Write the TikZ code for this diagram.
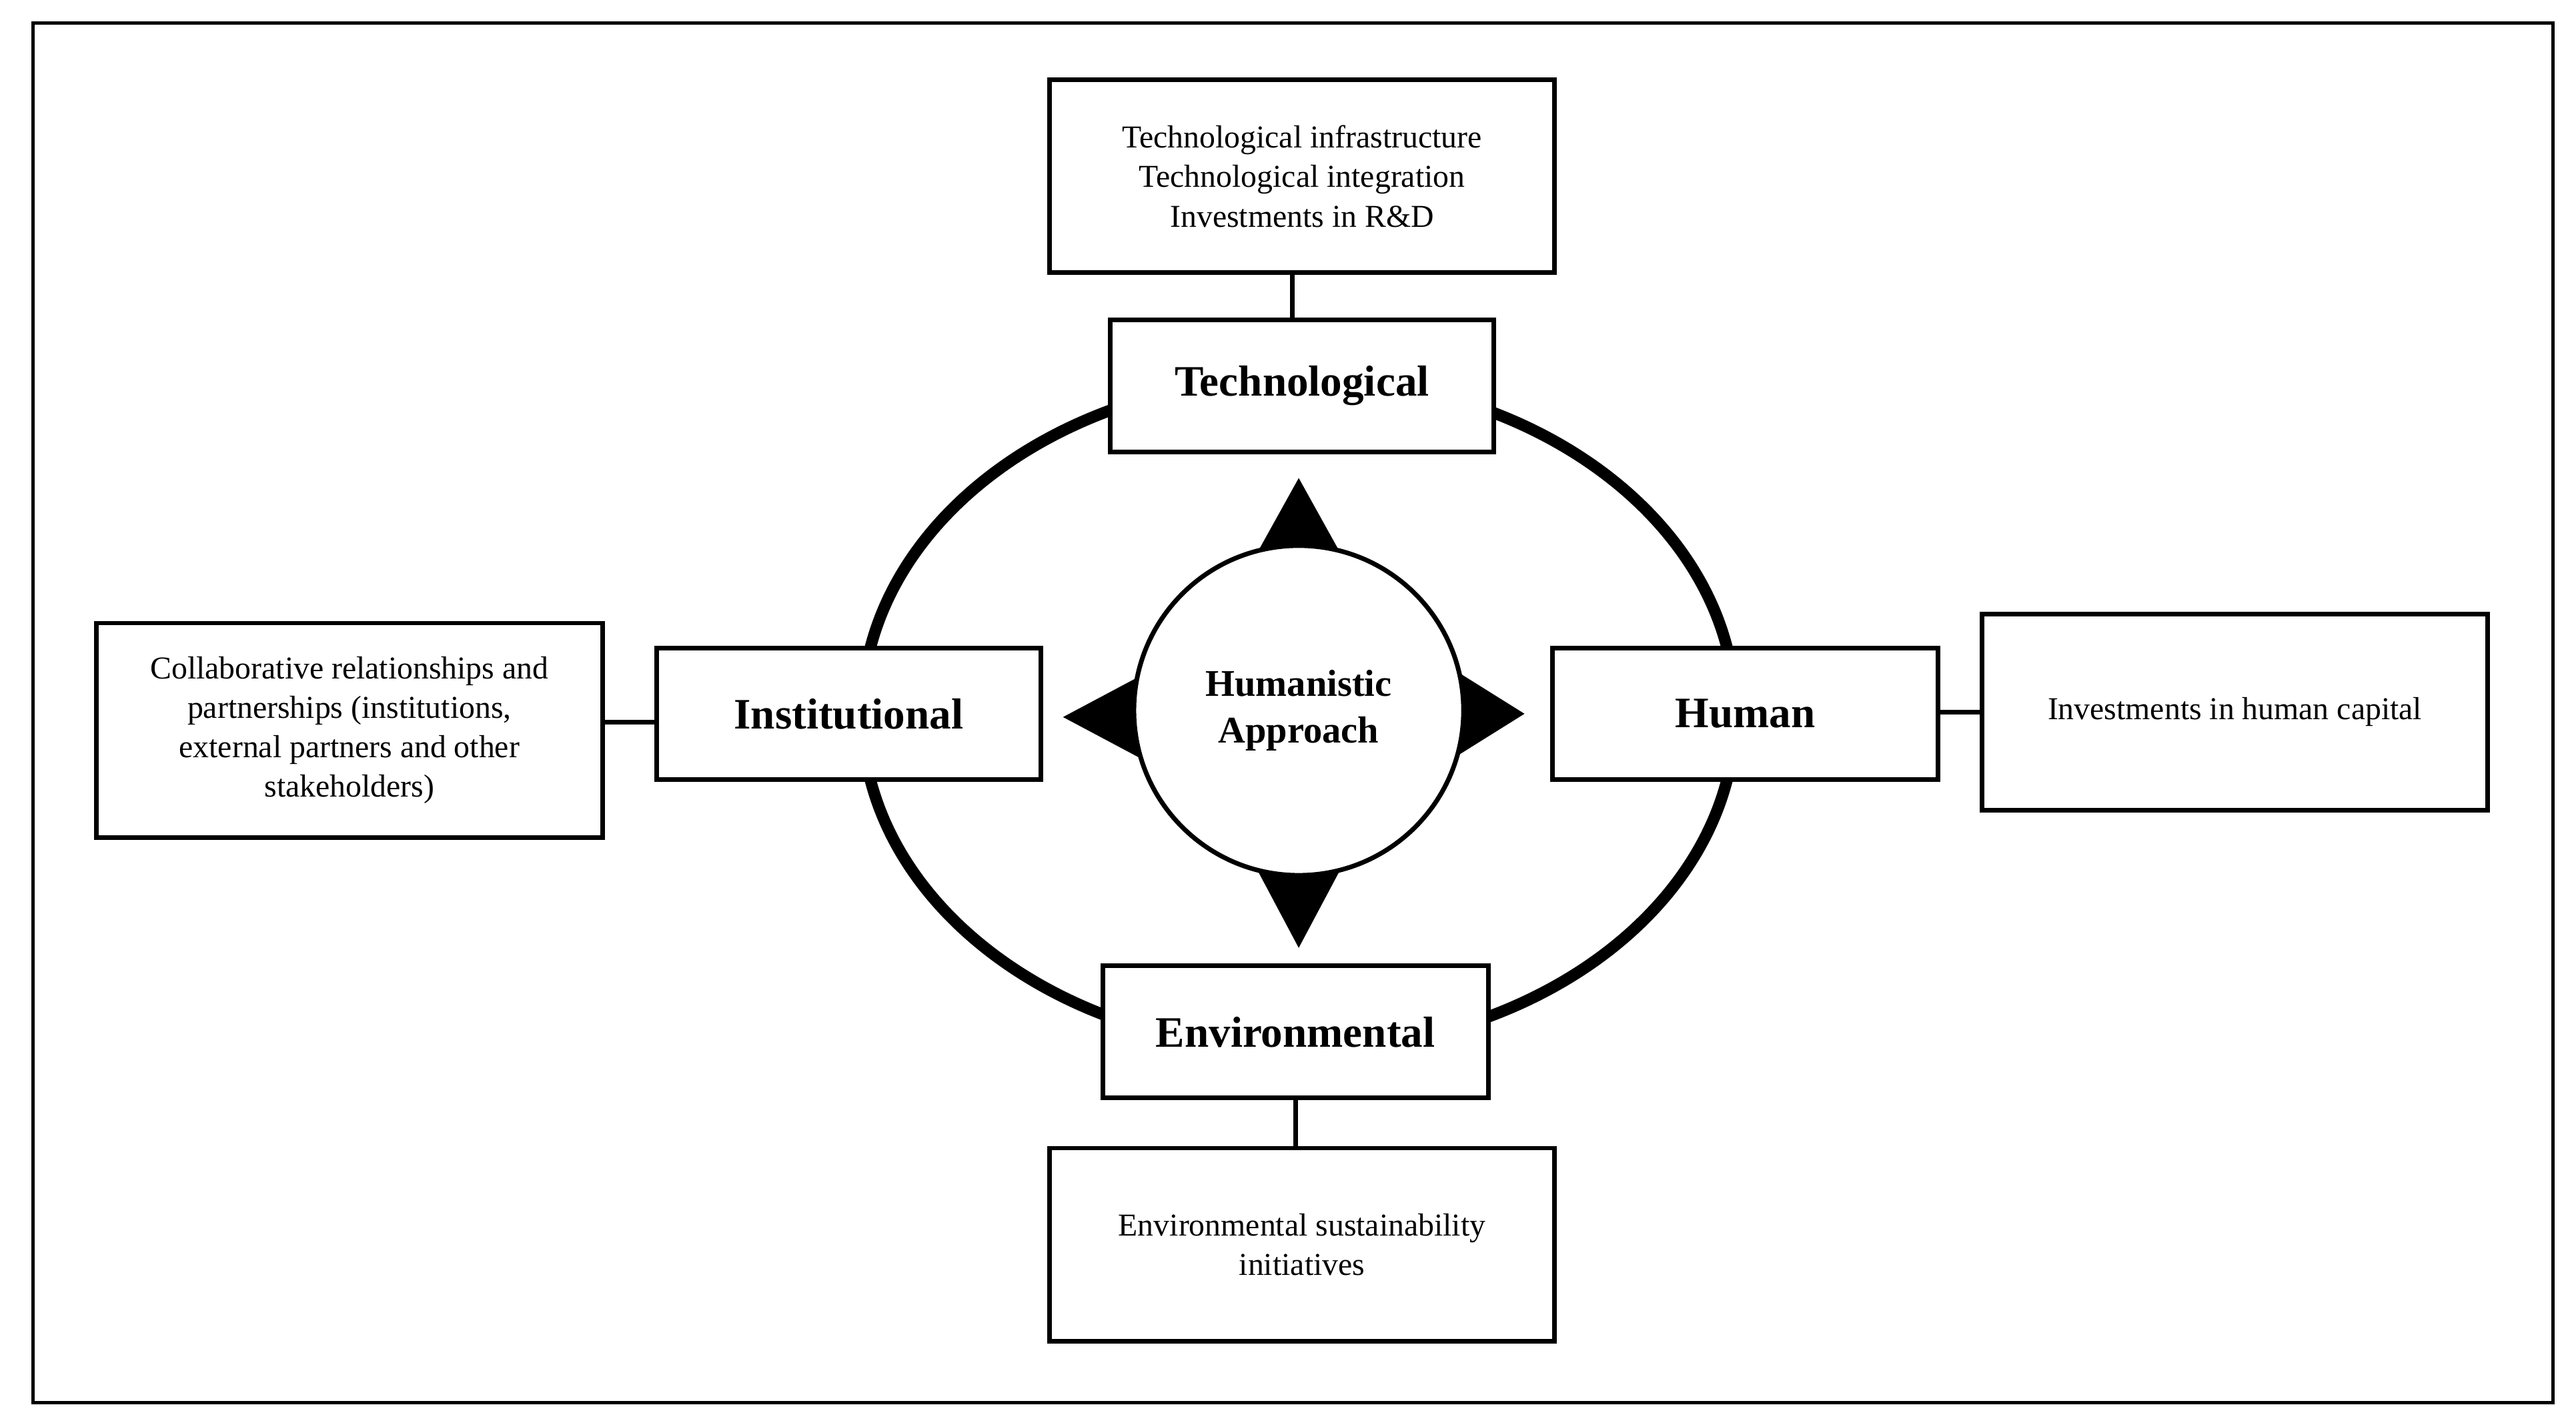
\documentclass[tikz,border=0pt]{standalone}
\usepackage{fontspec}
\setmainfont{Liberation Serif}
\begin{document}
\begin{tikzpicture}[x=0.02cm,y=-0.02cm,
  bx/.style={draw,line width=1.6pt,fill=white,align=center,inner sep=0pt,font=\fontsize{11}{13.6}\selectfont},
  lbl/.style={draw,line width=1.6pt,fill=white,align=center,inner sep=0pt,font=\fontsize{15}{18}\selectfont\bfseries},
  ln/.style={line width=1.6pt}]
\useasboundingbox (0,0) rectangle (1563,862);
\draw[line width=1.2pt] (20,14) rectangle (1549,851);
\draw[line width=4pt] (788,433) ellipse [x radius=265,y radius=204];
\node[lbl,minimum width=233*0.02cm,minimum height=80*0.02cm] (tec) at (790,234) {Technological};
\node[lbl,minimum width=233*0.02cm,minimum height=80*0.02cm] (ins) at (515,433) {Institutional};
\node[lbl,minimum width=234*0.02cm,minimum height=80*0.02cm] (hum) at (1059,433) {Human};
\node[lbl,minimum width=234*0.02cm,minimum height=80*0.02cm] (env) at (786,626) {Environmental};
\node[bx,minimum width=306*0.02cm,minimum height=117*0.02cm] (tb) at (790,107) {Technological infrastructure\\Technological integration\\Investments in R\&D};
\node[bx,minimum width=307*0.02cm,minimum height=130*0.02cm] (lb) at (212,443) {Collaborative relationships and\\partnerships (institutions,\\external partners and other\\stakeholders)};
\node[bx,minimum width=307*0.02cm,minimum height=119*0.02cm] (rb) at (1356,432) {Investments in human capital};
\node[bx,minimum width=306*0.02cm,minimum height=117*0.02cm] (bb) at (790,755) {Environmental sustainability\\initiatives};
\draw[ln] (tb.south -| 784,0) -- (tec.north -| 784,0);
\draw[ln] (env.south -| 786,0) -- (bb.north -| 786,0);
\draw[ln] (lb.east |- 0,438) -- (ins.west |- 0,438);
\draw[ln] (hum.east |- 0,432) -- (rb.west |- 0,432);
\fill (788,290) -- (813,335) -- (763,335) -- cycle;
\fill (788,575) -- (813,528) -- (763,528) -- cycle;
\fill (645,435) -- (692,410) -- (692,460) -- cycle;
\fill (925,433) -- (885,408) -- (885,458) -- cycle;
\node[circle,draw,line width=1.6pt,fill=white,minimum size=200*0.02cm,align=center,font=\fontsize{13}{16}\selectfont\bfseries] (c) at (788,431) {Humanistic\\Approach};
\end{tikzpicture}
\end{document}
